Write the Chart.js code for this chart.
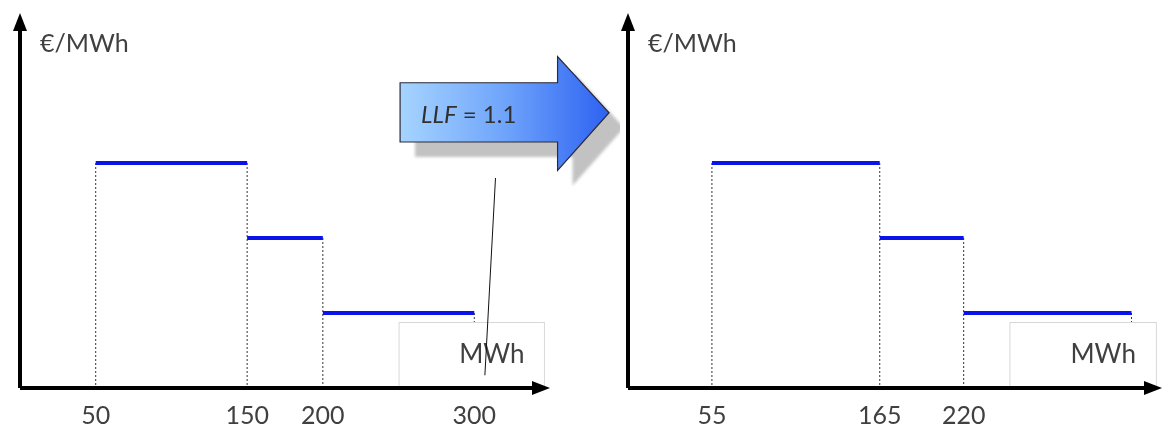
<!DOCTYPE html>
<html>
<head>
<meta charset="utf-8">
<script src="https://cdn.jsdelivr.net/npm/chart.js@4/dist/chart.umd.min.js"></script>
<style>
  body { margin: 0; background: #fff; }
  #wrap { position: relative; width: 1164px; height: 430px; background: #fff; }
  #left { position: absolute; left: 0; top: 0; }
  #right { position: absolute; left: 600px; top: 0; }
</style>
</head>
<body>
<div id="wrap">
  <canvas id="right" width="564" height="430"></canvas>
  <canvas id="left" width="620" height="430"></canvas>
</div>
<script>
// Courbes d'offre : bornes de quantité (MWh) et niveaux de prix
const stepsLeft = [50, 150, 200, 300];
const stepsRight = [55, 165, 220, 330];
const priceLevels = [3, 2, 1];
const xTicksLeft = [50, 150, 200, 300];
const xTicksRight = [55, 165, 220];
const yLabel = '€/MWh';
const xLabel = 'MWh';
// trait parasite dans la figure d'origine (gauche seulement)
const strayLine = [{ x: 314, y: 2.8 }, { x: 307, y: 0.17 }];

const FONT = 'Lato, "Open Sans", sans-serif';
const TEXT = '#404040';

// Segments horizontaux
function stepPoints(steps) {
    const pts = [];
    for (let i = 0; i < priceLevels.length; i++) {
        pts.push({ x: steps[i], y: priceLevels[i] });
        pts.push({ x: steps[i + 1], y: priceLevels[i] });
        pts.push({ x: steps[i + 1], y: null });
    }
    return pts;
}

// Lignes verticales pointillées
function dropPoints(steps) {
    const pts = [];
    steps.forEach((b, i) => {
        const top = i === 0 ? priceLevels[0] : priceLevels[i - 1];
        pts.push({ x: b, y: top }, { x: b, y: 0 }, { x: b, y: null });
    });
    return pts;
}

// Axes avec flèches, étiquettes et encadré "MWh"
const axesPlugin = {
    id: 'axes',
    afterDatasetDraw(chart, args) {
        if (chart.data.datasets[args.index].label !== 'steps') return;
        const { ctx, scales: { x, y } } = chart;
        const l = x.getPixelForValue(250), r = x.getPixelForValue(346);
        const t = y.getPixelForValue(0.88), b = y.getPixelForValue(0);
        ctx.save();
        ctx.fillStyle = '#fff';
        ctx.fillRect(l, t, r - l, b - t);
        ctx.strokeStyle = '#d8d8d8';
        ctx.lineWidth = 1;
        ctx.strokeRect(l + 0.5, t + 0.5, r - l, b - t);
        ctx.fillStyle = TEXT;
        ctx.font = '26px ' + FONT;
        ctx.textBaseline = 'middle';
        ctx.fillText(xLabel, x.getPixelForValue(290), (t + b) / 2);
        ctx.restore();
    },
    afterDraw(chart) {
        const { ctx, chartArea: a } = chart;
        const x0 = a.left, y0 = a.bottom;
        ctx.save();
        ctx.strokeStyle = '#000';
        ctx.fillStyle = '#000';
        ctx.lineWidth = 4;
        ctx.beginPath();
        ctx.moveTo(x0, y0);
        ctx.lineTo(a.right - 14, y0);
        ctx.moveTo(x0, y0);
        ctx.lineTo(x0, a.top + 14);
        ctx.stroke();
        ctx.beginPath();
        ctx.moveTo(a.right, y0);
        ctx.lineTo(a.right - 18, y0 - 7);
        ctx.lineTo(a.right - 18, y0 + 7);
        ctx.closePath();
        ctx.fill();
        ctx.beginPath();
        ctx.moveTo(x0, a.top);
        ctx.lineTo(x0 - 7, a.top + 18);
        ctx.lineTo(x0 + 7, a.top + 18);
        ctx.closePath();
        ctx.fill();
        ctx.fillStyle = TEXT;
        ctx.font = '25px ' + FONT;
        ctx.textBaseline = 'middle';
        ctx.fillText(yLabel, x0 + 20, a.top + 31);
        ctx.restore();
    }
};

// Grosse flèche "LLF = 1.1"
const bigArrowPlugin = {
    id: 'bigArrow',
    afterDraw(chart) {
        const { ctx, scales: { x, y } } = chart;
        const xl = x.getPixelForValue(251), xb = x.getPixelForValue(355), xt = x.getPixelForValue(389);
        const bt = y.getPixelForValue(4.07), bb = y.getPixelForValue(3.28);
        const ht = y.getPixelForValue(4.42), hb = y.getPixelForValue(2.9), tm = y.getPixelForValue(3.67);
        const path = (dx, dy) => {
            ctx.beginPath();
            ctx.moveTo(xl + dx, bt + dy);
            ctx.lineTo(xb + dx, bt + dy);
            ctx.lineTo(xb + dx, ht + dy);
            ctx.lineTo(xt + dx, tm + dy);
            ctx.lineTo(xb + dx, hb + dy);
            ctx.lineTo(xb + dx, bb + dy);
            ctx.lineTo(xl + dx, bb + dy);
            ctx.closePath();
        };
        ctx.save();
        ctx.filter = 'blur(1.5px)';
        ctx.fillStyle = '#c2c2c2';
        path(15, 15);
        ctx.fill();
        ctx.filter = 'none';
        const g = ctx.createLinearGradient(xl, 0, xt, 0);
        g.addColorStop(0, '#a6d4ff');
        g.addColorStop(0.5, '#6fa4fb');
        g.addColorStop(1, '#2d62f2');
        ctx.fillStyle = g;
        path(0, 0);
        ctx.fill();
        ctx.strokeStyle = '#2a2a3a';
        ctx.lineWidth = 1.2;
        ctx.stroke();
        ctx.fillStyle = '#303030';
        ctx.textBaseline = 'middle';
        ctx.font = 'italic 24px ' + FONT;
        const tx = xl + 21, ty = tm + 3;
        ctx.fillText('LLF', tx, ty);
        const w = ctx.measureText('LLF').width;
        ctx.font = '24px ' + FONT;
        ctx.fillText(' = 1.1', tx + w, ty);
        ctx.restore();
    }
};

function makeChart(id, steps, ticks, padding, extra, plugins) {
    const datasets = [...extra,
        {
            label: 'steps',
            data: stepPoints(steps),
            borderColor: '#0a14e8',
            borderWidth: 4,
            pointRadius: 0,
            spanGaps: false
        },
        {
            label: 'drops',
            data: dropPoints(steps),
            borderColor: '#333',
            borderWidth: 1,
            borderDash: [2, 2],
            pointRadius: 0,
            spanGaps: false
        }
    ];
    return new Chart(document.getElementById(id), {
        type: 'line',
        data: { datasets },
        options: {
            responsive: false,
            animation: false,
            layout: { padding },
            plugins: { legend: { display: false }, tooltip: { enabled: false } },
            scales: {
                x: {
                    type: 'linear',
                    min: 0,
                    max: 350,
                    afterBuildTicks: s => { s.ticks = ticks.map(v => ({ value: v })); },
                    afterFit: s => { s.height = 42; },
                    grid: { display: false, drawTicks: false },
                    border: { display: false },
                    ticks: {
                        padding: 13,
                        autoSkip: false,
                        maxRotation: 0,
                        color: TEXT,
                        font: { family: FONT, size: 25 }
                    }
                },
                y: { display: false, min: 0, max: 5 }
            }
        },
        plugins
    });
}

makeChart('left', stepsLeft, xTicksLeft, { left: 20, right: 70, top: 13, bottom: 0 },
    [{ label: 'stray', data: strayLine, borderColor: '#111', borderWidth: 1, pointRadius: 0 }],
    [axesPlugin, bigArrowPlugin]);

makeChart('right', stepsRight, xTicksRight, { left: 28, right: 2, top: 13, bottom: 0 },
    [], [axesPlugin]);
</script>
</body>
</html>
